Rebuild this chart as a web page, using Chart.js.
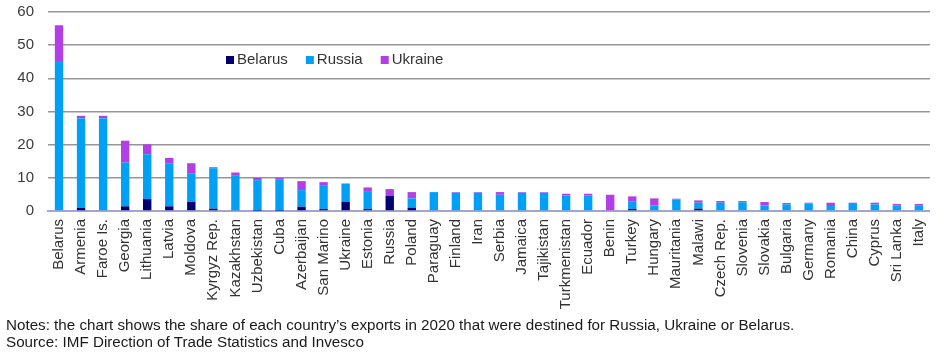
<!DOCTYPE html>
<html>
<head>
<meta charset="utf-8">
<script src="https://cdn.jsdelivr.net/npm/chart.js@4.4.0/dist/chart.umd.min.js"></script>
<style>
  html, body { margin: 0; padding: 0; background: #fff; }
  #wrap { position: relative; width: 945px; height: 354px; overflow: hidden; }
  #c { position: absolute; left: 0; top: 0; }
  .note { position: absolute; left: 6px; font-family: "Liberation Sans", Arial, sans-serif; font-size: 15.2px; color: #1a1a1a; white-space: nowrap; }
</style>
</head>
<body>
<div id="wrap">
  <canvas id="c" width="945" height="318"></canvas>
  <div class="note" id="n1" style="top:316px;">Notes: the chart shows the share of each country’s exports in 2020 that were destined for Russia, Ukraine or Belarus.</div>
  <div class="note" id="n2" style="top:333px;">Source: IMF Direction of Trade Statistics and Invesco</div>
</div>
<script>
const categories = ["Belarus","Armenia","Faroe Is.","Georgia","Lithuania","Latvia","Moldova","Kyrgyz Rep.","Kazakhstan","Uzbekistan","Cuba","Azerbaijan","San Marino","Ukraine","Estonia","Russia","Poland","Paraguay","Finland","Iran","Serbia","Jamaica","Tajikistan","Turkmenistan","Ecuador","Benin","Turkey","Hungary","Mauritania","Malawi","Czech Rep.","Slovenia","Slovakia","Bulgaria","Germany","Romania","China","Cyprus","Sri Lanka","Italy"];
const belarus = [0, 0.9, 0, 1.4, 3.6, 1.4, 2.8, 0.7, 0.2, 0.1, 0.1, 1.3, 0.6, 2.8, 0.6, 4.6, 1.0, 0, 0, 0, 0, 0, 0, 0, 0, 0, 0.6, 0, 0, 0.7, 0, 0, 0, 0, 0, 0, 0, 0, 0, 0];
const russia = [45.2, 27.1, 28.0, 13.2, 13.5, 13.0, 8.6, 12.2, 10.6, 9.2, 9.5, 5.0, 7.2, 5.5, 5.4, 0, 2.8, 5.7, 5.5, 5.5, 4.9, 5.5, 5.5, 4.7, 4.7, 0, 2.2, 1.7, 3.5, 1.8, 2.5, 2.6, 1.7, 2.0, 2.3, 1.5, 2.4, 2.0, 1.7, 1.6];
const ukraine = [10.8, 0.7, 0.7, 6.6, 3.0, 1.6, 3.0, 0.3, 0.8, 0.7, 0.4, 2.7, 0.9, 0, 1.1, 2.0, 1.9, 0, 0.2, 0.2, 0.8, 0.2, 0.2, 0.5, 0.5, 4.9, 1.6, 2.1, 0.2, 0.7, 0.5, 0.4, 1.0, 0.4, 0.2, 1.0, 0.1, 0.5, 0.4, 0.5];
const seriesNames = ["Belarus", "Russia", "Ukraine"];
const yMin = 0, yMax = 60, yStep = 10;

const colors = ["#00006e", "#00a0f6", "#b23ee6"];
const FONT = "'Liberation Sans', Arial, sans-serif";

const legendPlugin = {
  id: 'innerLegend',
  afterDraw(chart) {
    const ctx = chart.ctx;
    const a = chart.chartArea;
    ctx.save();
    ctx.font = "15px " + FONT;
    ctx.textBaseline = "middle";
    let x = a.left + 178;
    const y = 60;
    chart.data.datasets.forEach((ds) => {
      ctx.fillStyle = ds.backgroundColor;
      ctx.fillRect(x, y - 4, 8, 8);
      ctx.fillStyle = "#333";
      ctx.fillText(ds.label, x + 11, y);
      x += 11 + ctx.measureText(ds.label).width + 18;
    });
    ctx.restore();
  }
};

new Chart(document.getElementById('c'), {
  type: 'bar',
  data: {
    labels: categories,
    datasets: [
      { label: seriesNames[0], data: belarus, backgroundColor: colors[0] },
      { label: seriesNames[1], data: russia, backgroundColor: colors[1] },
      { label: seriesNames[2], data: ukraine, backgroundColor: colors[2] }
    ]
  },
  options: {
    responsive: false,
    animation: false,
    layout: { padding: { top: 0, right: 10, left: 0, bottom: 0 } },
    datasets: { bar: { categoryPercentage: 1.0, barPercentage: 0.38, borderWidth: 0 } },
    plugins: { legend: { display: false }, tooltip: { enabled: false } },
    scales: {
      x: {
        stacked: true,
        grid: { display: false, drawTicks: false },
        border: { display: true, color: "#a4a4d4", width: 2 },
        ticks: {
          autoSkip: false, maxRotation: 90, minRotation: 90, padding: 8,
          color: "#333", font: { family: FONT, size: 15 }
        },
        afterFit(scale) { scale.height = 318 - 211; }
      },
      y: {
        stacked: true,
        min: yMin, max: yMax,
        ticks: { stepSize: yStep, color: "#3a3a3a", padding: 14, font: { family: FONT, size: 15 } },
        grid: {
          drawTicks: false,
          color: (c) => c.tick && c.tick.value === 0 ? "rgba(0,0,0,0)" : "#969696",
          lineWidth: 1.5
        },
        border: { display: false },
        afterFit(scale) { scale.width = 48; scale.paddingTop = 12; scale.paddingBottom = 0; }
      }
    }
  },
  plugins: [legendPlugin]
});
</script>
</body>
</html>
